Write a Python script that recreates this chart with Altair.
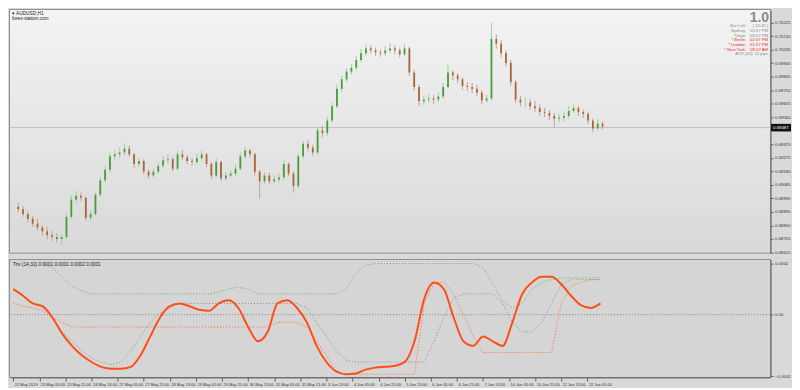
import altair as alt
import pandas as pd

# ---------------- data ----------------
FIRST_OPEN = 0.68930
CLOSE = [0.68914, 0.68880, 0.68846, 0.68812, 0.68785, 0.68758, 0.68731, 0.68718, 0.68704, 0.68718,
         0.68860, 0.68981, 0.69008, 0.68995, 0.68853, 0.68880, 0.69015, 0.69116, 0.69191, 0.69285,
         0.69299, 0.69312, 0.69339, 0.69299, 0.69231, 0.69252, 0.69177, 0.69150, 0.69177, 0.69218,
         0.69258, 0.69265, 0.69198, 0.69299, 0.69279, 0.69252, 0.69245, 0.69272, 0.69299, 0.69231,
         0.69150, 0.69245, 0.69130, 0.69150, 0.69164, 0.69198, 0.69285, 0.69326, 0.69299, 0.69177,
         0.69110, 0.69150, 0.69110, 0.69123, 0.69137, 0.69231, 0.69164, 0.69076, 0.69285, 0.69373,
         0.69346, 0.69312, 0.69468, 0.69448, 0.69536, 0.69637, 0.69759, 0.69826, 0.69880, 0.69907,
         0.69961, 0.70009, 0.70043, 0.70029, 0.70015, 0.70009, 0.70029, 0.70043, 0.70029, 0.70002,
         0.70043, 0.69874, 0.69772, 0.69671, 0.69684, 0.69691, 0.69684, 0.69705, 0.69772, 0.69874,
         0.69853, 0.69826, 0.69779, 0.69772, 0.69759, 0.69732, 0.69677, 0.69691, 0.70110, 0.70076,
         0.70009, 0.69941, 0.69806, 0.69684, 0.69664, 0.69664, 0.69637, 0.69623, 0.69596, 0.69590,
         0.69569, 0.69549, 0.69556, 0.69569, 0.69603, 0.69623, 0.69596, 0.69583, 0.69536, 0.69481,
         0.69515, 0.69495]
HIGH = [0.68960, 0.68935, 0.68900, 0.68870, 0.68845, 0.68800, 0.68790, 0.68760, 0.68745, 0.68740,
        0.68880, 0.69010, 0.69040, 0.69030, 0.69000, 0.68905, 0.69030, 0.69140, 0.69215, 0.69310,
        0.69330, 0.69345, 0.69375, 0.69360, 0.69310, 0.69275, 0.69265, 0.69195, 0.69200, 0.69240,
        0.69285, 0.69300, 0.69280, 0.69320, 0.69330, 0.69295, 0.69275, 0.69300, 0.69325, 0.69310,
        0.69245, 0.69270, 0.69255, 0.69175, 0.69190, 0.69225, 0.69310, 0.69350, 0.69340, 0.69310,
        0.69190, 0.69175, 0.69170, 0.69150, 0.69165, 0.69255, 0.69245, 0.69180, 0.69300, 0.69395,
        0.69400, 0.69365, 0.69490, 0.69500, 0.69560, 0.69660, 0.69790, 0.69850, 0.69905, 0.69935,
        0.69990, 0.70040, 0.70075, 0.70065, 0.70050, 0.70035, 0.70060, 0.70080, 0.70065, 0.70050,
        0.70070, 0.70055, 0.69890, 0.69790, 0.69715, 0.69720, 0.69715, 0.69735, 0.69800, 0.69930,
        0.69890, 0.69870, 0.69840, 0.69805, 0.69800, 0.69790, 0.69750, 0.69720, 0.70225, 0.70140,
        0.70100, 0.70030, 0.69960, 0.69820, 0.69710, 0.69700, 0.69690, 0.69675, 0.69650, 0.69625,
        0.69610, 0.69590, 0.69585, 0.69600, 0.69640, 0.69650, 0.69640, 0.69615, 0.69600, 0.69550,
        0.69545, 0.69530]
LOW = [0.68890, 0.68860, 0.68820, 0.68790, 0.68765, 0.68730, 0.68700, 0.68690, 0.68680, 0.68665,
       0.68700, 0.68840, 0.68960, 0.68970, 0.68830, 0.68830, 0.68865, 0.69000, 0.69100, 0.69170,
       0.69260, 0.69275, 0.69290, 0.69280, 0.69205, 0.69210, 0.69160, 0.69130, 0.69135, 0.69160,
       0.69200, 0.69235, 0.69180, 0.69185, 0.69255, 0.69230, 0.69220, 0.69230, 0.69255, 0.69210,
       0.69125, 0.69135, 0.69110, 0.69115, 0.69135, 0.69150, 0.69185, 0.69270, 0.69275, 0.69150,
       0.68990, 0.69090, 0.69090, 0.69095, 0.69105, 0.69120, 0.69145, 0.69030, 0.69060, 0.69270,
       0.69320, 0.69290, 0.69300, 0.69420, 0.69430, 0.69520, 0.69620, 0.69740, 0.69805, 0.69860,
       0.69890, 0.69945, 0.69990, 0.70005, 0.69990, 0.69985, 0.69990, 0.70010, 0.70000, 0.69980,
       0.69985, 0.69850, 0.69750, 0.69640, 0.69650, 0.69660, 0.69655, 0.69665, 0.69690, 0.69760,
       0.69820, 0.69800, 0.69755, 0.69745, 0.69730, 0.69710, 0.69650, 0.69660, 0.69680, 0.70040,
       0.69980, 0.69915, 0.69780, 0.69660, 0.69635, 0.69630, 0.69610, 0.69595, 0.69570, 0.69560,
       0.69540, 0.69490, 0.69520, 0.69530, 0.69550, 0.69590, 0.69570, 0.69555, 0.69510, 0.69455,
       0.69465, 0.69475]
BARS_PER_CANDLE = 3
CURRENT_PRICE = 0.69487
PRICE_TICKS = [0.70225, 0.70130, 0.70035, 0.69940, 0.69845, 0.69750, 0.69655, 0.69560, 0.69465,
               0.69370, 0.69275, 0.69180, 0.69085, 0.68990, 0.68895, 0.68800, 0.68705, 0.68610]

# indicator values in units of 0.0001
TRIX = [1.00, 0.74, 0.44, 0.33, -0.11, -0.74, -1.22, -1.59, -1.85, -2.04, -2.11, -2.11, -2.04, -1.59,
        -0.85, -0.11, 0.33, 0.44, 0.33, 0.19, 0.15, 0.44, 0.56, 0.26, -0.48, -1.04, -0.67, 0.44, 0.56,
        0.26, -0.30, -1.22, -1.85, -2.22, -2.33, -2.30, -2.15, -2.07, -2.04, -2.00, -1.85, -1.04, 0.63,
        1.26, 1.00, -0.11, -1.04, -1.22, -0.85, -1.04, -1.22, -0.30, 0.81, 1.26, 1.48, 1.48, 1.19, 0.74,
        0.37, 0.26, 0.44]
GREEN_DOT = [2.60, 2.50, 2.30, 2.00, 1.85, 1.48, 1.11, 0.93, 0.81, 0.81, 0.81, 0.81, 0.81, 0.81, 0.81,
             0.81, 0.81, 0.81, 0.81, 0.81, 0.81, 0.89, 1.00, 1.07, 1.00, 0.81, 0.81, 0.81, 0.81, 0.81,
             0.81, 0.81, 0.81, 0.81, 1.00, 1.63, 1.93, 2.00, 2.00, 2.00, 2.00, 2.00, 2.00, 2.00, 2.00,
             2.00, 2.00, 2.00, 1.85, 1.19, 0.52, 0.26, 0.44, 1.00, 1.26, 1.37, 1.44, 1.44, 1.44, 1.44, 1.44]
GREY_DOT = [1.00, 0.74, 0.44, 0.26, -0.11, -0.67, -1.04, -1.41, -1.70, -1.85, -1.96, -1.85, -1.41, -0.85,
            -0.30, 0.07, 0.26, 0.44, 0.44, 0.44, 0.44, 0.44, 0.44, 0.44, 0.44, 0.44, 0.44, 0.44, 0.44,
            0.44, 0.26, -0.30, -0.85, -1.41, -1.78, -1.85, -1.85, -1.85, -1.85, -1.85, -1.85, -1.85, -1.85,
            -1.04, -0.11, 0.63, 0.81, 0.81, 0.81, 0.81, 0.44, -0.30, -0.67, -0.67, -0.30, 0.44, 1.19, 1.37,
            1.37, 1.37, 1.37]
ORANGE_DOT = [0.44, 0.33, 0.26, 0.15, -0.11, -0.30, -0.48, -0.48, -0.48, -0.48, -0.48, -0.48, -0.48,
              -0.48, -0.48, -0.48, -0.48, -0.48, -0.48, -0.48, -0.48, -0.48, -0.48, -0.48, -0.48, -0.48,
              -0.48, -0.30, -0.30, -0.30, -0.48, -1.04, -1.59, -2.22, -2.33, -2.33, -2.33, -2.33, -2.33,
              -2.33, -2.33, -2.33, 0.44, 1.26, 1.26, 0.81, 0.00, -0.85, -1.48, -1.48, -1.48, -1.48, -1.48,
              -1.48, -1.48, -1.48, 0.44, 1.11, 1.26, 1.37, 1.37]
BARS_PER_IND_POINT = 6

X_LABELS = ["22 May 2019", "23 May 05:00", "23 May 21:00", "24 May 13:00", "27 May 05:00",
            "27 May 21:00", "28 May 13:00", "29 May 05:00", "29 May 21:00", "30 May 13:00",
            "31 May 05:00", "31 May 21:00", "3 Jun 13:00", "4 Jun 05:00", "4 Jun 21:00",
            "5 Jun 13:00", "6 Jun 05:00", "6 Jun 21:00", "7 Jun 13:00", "10 Jun 05:00",
            "10 Jun 21:00", "11 Jun 13:00", "12 Jun 05:00"]
BARS_PER_LABEL = 16

INFO_LABELS = ["Bar Left", "Sydney", "Tokyo", "* Berlin", "* London", "* New York"]
INFO_VALUES = ["[ 32:45 ]", "10:07 PM", "09:07 PM", "02:07 PM", "01:07 PM", "08:07 AM"]
INFO_RED = [False, False, False, True, True, True]

# ---------------- layout ----------------
W = 764
H1 = 244
H2 = 118
X_DOMAIN = [-2, 464]
FONT = "Liberation Sans"
SMALL = 4.3

opens = [FIRST_OPEN] + CLOSE[:-1]
candles = pd.DataFrame({
    "bar": [i * BARS_PER_CANDLE for i in range(len(CLOSE))],
    "open": opens, "close": CLOSE, "high": HIGH, "low": LOW,
})

xs = alt.Scale(domain=X_DOMAIN, nice=False, zero=False)
ys = alt.Scale(domain=[0.68608, 0.70313], nice=False, zero=False)

bg_main = alt.Chart(pd.DataFrame({"a": [0]})).mark_rect(
    color=alt.LinearGradient(gradient="linear", x1=0, x2=0, y1=0, y2=1,
                             stops=[alt.GradientStop(color="#f3f3f3", offset=0),
                                    alt.GradientStop(color="#d9d9d9", offset=1)])
).encode(x=alt.value(0), x2=alt.value(W), y=alt.value(0), y2=alt.value(H1))

updown = alt.condition("datum.close >= datum.open", alt.value("#469c3a"), alt.value("#a8653a"))
wick_col = alt.condition("datum.close >= datum.open", alt.value("#a3cc9e"), alt.value("#bda58e"))

price_axis = alt.Axis(orient="right", values=PRICE_TICKS, format=".5f", title=None, grid=False,
                      labelOverlap=False, labelFontSize=SMALL, labelPadding=1.5, labelBound=False)

wicks = alt.Chart(candles).mark_rule(strokeWidth=1).encode(
    x=alt.X("bar:Q", scale=xs, axis=None),
    y=alt.Y("low:Q", scale=ys, axis=price_axis),
    y2="high:Q",
    color=wick_col,
)
bodies = alt.Chart(candles).mark_bar(size=1.8).encode(
    x=alt.X("bar:Q", scale=xs, axis=None),
    y=alt.Y("open:Q", scale=ys, axis=price_axis),
    y2="close:Q",
    color=updown,
)

price_line = alt.Chart(pd.DataFrame({"p": [CURRENT_PRICE]})).mark_rule(
    color="#bcbcbc", strokeWidth=1).encode(y=alt.Y("p:Q", scale=ys, axis=price_axis))

box_df = pd.DataFrame({"p": [CURRENT_PRICE], "hi": [CURRENT_PRICE + 0.00026],
                       "lo": [CURRENT_PRICE - 0.00026], "t": [f"{CURRENT_PRICE:.5f}"]})
price_box = alt.Chart(box_df).mark_rect(color="#111111").encode(
    x=alt.value(W + 1), x2=alt.value(W + 21), y=alt.Y("hi:Q", scale=ys, axis=price_axis), y2="lo:Q")
price_txt = alt.Chart(box_df).mark_text(
    color="white", fontSize=SMALL, font=FONT, align="left", baseline="middle").encode(
    x=alt.value(W + 3), y=alt.Y("p:Q", scale=ys, axis=price_axis), text="t:N")

title_df = pd.DataFrame({"t": ["▾ AUDUSD,H1", "forex-station.com"], "yy": [4, 9]})
title_txt = alt.Chart(title_df).mark_text(
    fontSize=4.8, font=FONT, align="left", baseline="middle", color="#222222").encode(
    x=alt.value(2), y=alt.Y("yy:Q", scale=None), text="t:N")

big = alt.Chart(pd.DataFrame({"t": ["1.0"]})).mark_text(
    fontSize=14, font=FONT, fontWeight="bold", align="right", baseline="bottom",
    color="#8a8a8a").encode(x=alt.value(W - 1), y=alt.value(15), text="t:N")

info_df = pd.DataFrame({
    "lab": INFO_LABELS + ["ATR (20): 11 pips"],
    "val": INFO_VALUES + [""],
    "red": INFO_RED + [False],
    "yy": [16.5, 21.2, 25.9, 30.6, 35.3, 40.0, 44.7],
})
info_col = alt.condition("datum.red", alt.value("#e03232"), alt.value("#8c8c8c"))
info_lab = alt.Chart(info_df).transform_filter("datum.val != ''").mark_text(
    fontSize=SMALL, font=FONT, align="right", baseline="middle").encode(
    x=alt.value(W - 25), y=alt.Y("yy:Q", scale=None), text="lab:N", color=info_col)
info_val = alt.Chart(info_df).transform_filter("datum.val != ''").mark_text(
    fontSize=SMALL, font=FONT, align="right", baseline="middle").encode(
    x=alt.value(W - 2), y=alt.Y("yy:Q", scale=None), text="val:N", color=info_col)
info_atr = alt.Chart(info_df).transform_filter("datum.val == ''").mark_text(
    fontSize=SMALL, font=FONT, align="right", baseline="middle", color="#8c8c8c").encode(
    x=alt.value(W - 2), y=alt.Y("yy:Q", scale=None), text="lab:N")

main = alt.layer(bg_main, price_line, wicks, bodies, price_box, price_txt,
                 title_txt, big, info_lab, info_val, info_atr).properties(width=W, height=H1)

# ---------------- indicator ----------------
rows = []
for name, arr in [("grey", GREY_DOT), ("orange", ORANGE_DOT), ("green", GREEN_DOT), ("trix", TRIX)]:
    for j, v in enumerate(arr):
        rows.append({"series": name, "bar": j * BARS_PER_IND_POINT, "v": v * 1e-4})
ind = pd.DataFrame(rows)

ys2 = alt.Scale(domain=[-0.000244, 0.000215], nice=False, zero=False)

label_expr = "[" + ",".join(f"'{s}'" for s in X_LABELS) + f"][round(datum.value/{BARS_PER_LABEL})]"
x_ticks = [k * BARS_PER_LABEL for k in range(len(X_LABELS))]

time_axis = alt.Axis(values=x_ticks, labelExpr=label_expr, title=None, grid=False, labelAlign="left",
                     labelPadding=1, tickSize=4, labelFontSize=4.0, labelOverlap=False,
                     labelFlush=False, labelBound=False, labelOffset=1)
ind_axis = alt.Axis(orient="right", values=[0.0002, 0.0, -0.00024],
                    labelExpr="datum.value == 0 ? '0.00' : format(datum.value, '.4f')",
                    title=None, grid=False, labelFontSize=SMALL, labelOverlap=False, labelPadding=1.5)

bg_ind = alt.Chart(pd.DataFrame({"a": [0]})).mark_rect(color="#d5d5d5").encode(
    x=alt.value(0), x2=alt.value(W), y=alt.value(0), y2=alt.value(H2))

zero = alt.Chart(pd.DataFrame({"z": [0.0]})).mark_rule(
    color="#808080", strokeDash=[1, 2], strokeWidth=1).encode(y=alt.Y("z:Q", scale=ys2, axis=ind_axis))

def dotted(name, color):
    return alt.Chart(ind).transform_filter(f"datum.series == '{name}'").mark_line(
        color=color, strokeDash=[1, 2], strokeWidth=1, clip=True).encode(
        x=alt.X("bar:Q", scale=xs, axis=time_axis),
        y=alt.Y("v:Q", scale=ys2, axis=ind_axis))

trix_line = alt.Chart(ind).transform_filter("datum.series == 'trix'").mark_line(
    color="#ff4e17", strokeWidth=2, interpolate="monotone", clip=True).encode(
    x=alt.X("bar:Q", scale=xs, axis=time_axis),
    y=alt.Y("v:Q", scale=ys2, axis=ind_axis),
)

ind_title = alt.Chart(pd.DataFrame({"t": ["Trix (14,32) 0.0001 0.0001 0.0002 0.0001"]})).mark_text(
    fontSize=4.8, font=FONT, align="left", baseline="middle", color="#222222").encode(
    x=alt.value(3), y=alt.value(5), text="t:N")

indicator = alt.layer(bg_ind, zero, dotted("grey", "#8a8a8a"), dotted("orange", "#ff6a33"),
                      dotted("green", "#4fc04f"), trix_line, ind_title).properties(width=W, height=H2)

chart = alt.vconcat(main, indicator, spacing=3).properties(
    padding={"left": 0, "top": 0, "right": 0, "bottom": 0},
    background="#d9d9d9",
).configure_axis(
    labelFont=FONT, labelColor="#333333", domainColor="#707070", labelOverlap=False,
    domainWidth=2, tickColor="#606060", tickSize=3,
).configure_view(stroke="#7a7a7a", strokeWidth=1.5)

chart.save("out.html", embed_options={"renderer": "svg", "actions": False})
